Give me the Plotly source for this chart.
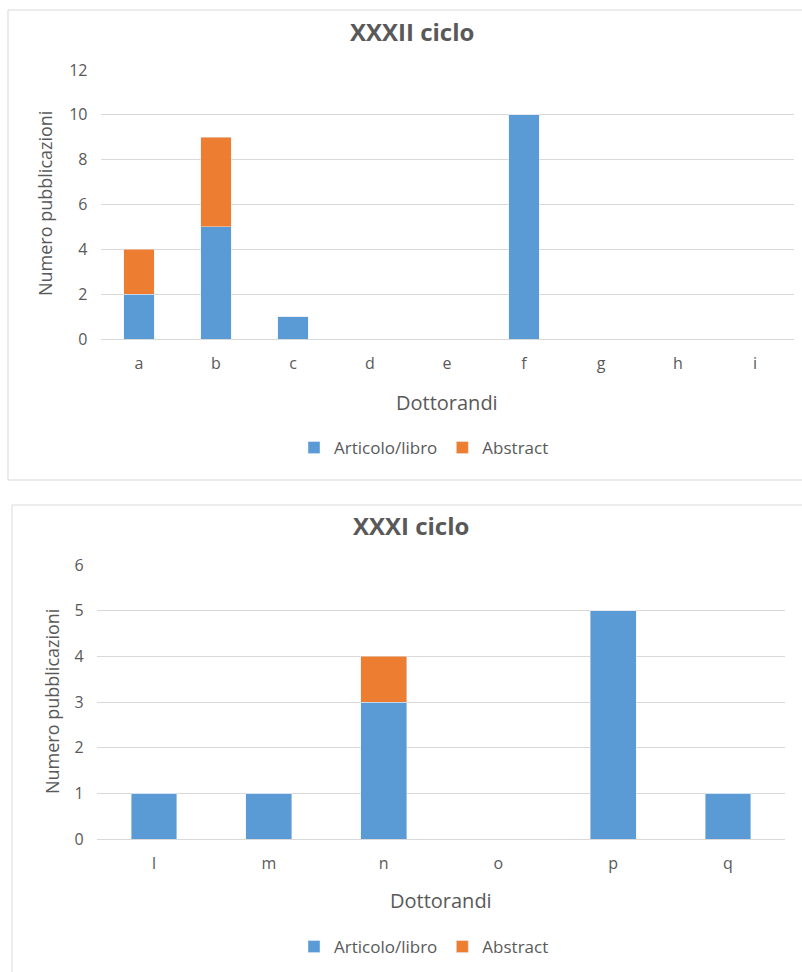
import plotly.graph_objects as go

# ---- data ----
cats_top = ["a", "b", "c", "d", "e", "f", "g", "h", "i"]
articolo_top = [2, 5, 1, 0, 0, 10, 0, 0, 0]
abstract_top = [2, 4, 0, 0, 0, 0, 0, 0, 0]

cats_bot = ["l", "m", "n", "o", "p", "q"]
articolo_bot = [1, 1, 3, 0, 5, 1]
abstract_bot = [0, 0, 1, 0, 0, 0]

title_top = "XXXII ciclo"
title_bot = "XXXI ciclo"
xlabel = "Dottorandi"
ylabel = "Numero pubblicazioni"
name_a = "Articolo/libro"
name_b = "Abstract"

BLUE = "#5B9BD5"
ORANGE = "#ED7D31"
GRID = "#D9D9D9"
TXT = "#595959"
FONT = "Open Sans, Liberation Sans, Arial"

W, H = 802, 972
def px(x): return x / W
def py(y): return 1 - y / H

fig = go.Figure()
fig.add_trace(go.Bar(x=cats_top, y=articolo_top, name=name_a, marker_color=BLUE,
                     xaxis="x", yaxis="y", legend="legend"))
fig.add_trace(go.Bar(x=cats_top, y=abstract_top, name=name_b, marker_color=ORANGE,
                     xaxis="x", yaxis="y", legend="legend"))
fig.add_trace(go.Bar(x=cats_bot, y=articolo_bot, name=name_a, marker_color=BLUE,
                     xaxis="x2", yaxis="y2", legend="legend2"))
fig.add_trace(go.Bar(x=cats_bot, y=abstract_bot, name=name_b, marker_color=ORANGE,
                     xaxis="x2", yaxis="y2", legend="legend2"))

axfont = dict(family=FONT, size=16, color=TXT)
fig.update_layout(
    width=W, height=H, margin=dict(l=0, r=0, t=0, b=0, autoexpand=False),
    paper_bgcolor="white", plot_bgcolor="white",
    barmode="stack", bargap=0.6,
    font=dict(family=FONT, color=TXT),
    xaxis=dict(domain=[px(100.5), px(793.5)], anchor="y", showgrid=False,
               showline=True, linecolor=GRID, ticks="", tickfont=axfont,
               ticklabelstandoff=10, automargin=False),
    yaxis=dict(domain=[py(339), py(70)], anchor="x", range=[0, 12], dtick=2,
               showgrid=True, gridcolor=GRID, gridwidth=1, zeroline=False,
               showline=False, ticks="", tickfont=axfont, ticklabelstandoff=12,
               automargin=False),
    xaxis2=dict(domain=[px(96.6), px(785.4)], anchor="y2", showgrid=False,
                showline=True, linecolor=GRID, ticks="", tickfont=axfont,
                ticklabelstandoff=10, automargin=False),
    yaxis2=dict(domain=[py(839), py(565)], anchor="x2", range=[0, 6], dtick=1,
                showgrid=True, gridcolor=GRID, gridwidth=1, zeroline=False,
                showline=False, ticks="", tickfont=axfont, ticklabelstandoff=12,
                automargin=False),
    legend=dict(orientation="h", x=px(424), y=py(448), xanchor="center", yanchor="middle",
                font=dict(family=FONT, size=17, color=TXT), traceorder="normal",
                itemwidth=30, bgcolor="rgba(0,0,0,0)"),
    legend2=dict(orientation="h", x=px(424), y=py(947), xanchor="center", yanchor="middle",
                 font=dict(family=FONT, size=17, color=TXT), traceorder="normal",
                 itemwidth=30, bgcolor="rgba(0,0,0,0)"),
    showlegend=True,
)

ann = [
    dict(text="<b>" + title_top + "</b>", x=px(412), y=py(32), font=dict(size=24)),
    dict(text="<b>" + title_bot + "</b>", x=px(411), y=py(525), font=dict(size=24)),
    dict(text=xlabel, x=px(447), y=py(402), font=dict(size=20)),
    dict(text=xlabel, x=px(441), y=py(900), font=dict(size=20)),
    dict(text=ylabel, x=px(45), y=py(204), textangle=-90, font=dict(size=18)),
    dict(text=ylabel, x=px(52), y=py(702), textangle=-90, font=dict(size=18)),
]
for a in ann:
    a.update(xref="paper", yref="paper", showarrow=False, xanchor="center", yanchor="middle")
    a["font"].update(family=FONT, color=TXT)
fig.update_layout(annotations=ann)

fig.update_layout(shapes=[
    dict(type="rect", xref="paper", yref="paper", x0=px(8), x1=px(808), y0=py(480), y1=py(10),
         line=dict(color=GRID, width=1), layer="below"),
    dict(type="rect", xref="paper", yref="paper", x0=px(12), x1=px(812), y0=py(990), y1=py(505),
         line=dict(color=GRID, width=1), layer="below"),
])

fig.write_html("out.html", config={"displayModeBar": False},
               post_script="document.body.style.margin='0';")
